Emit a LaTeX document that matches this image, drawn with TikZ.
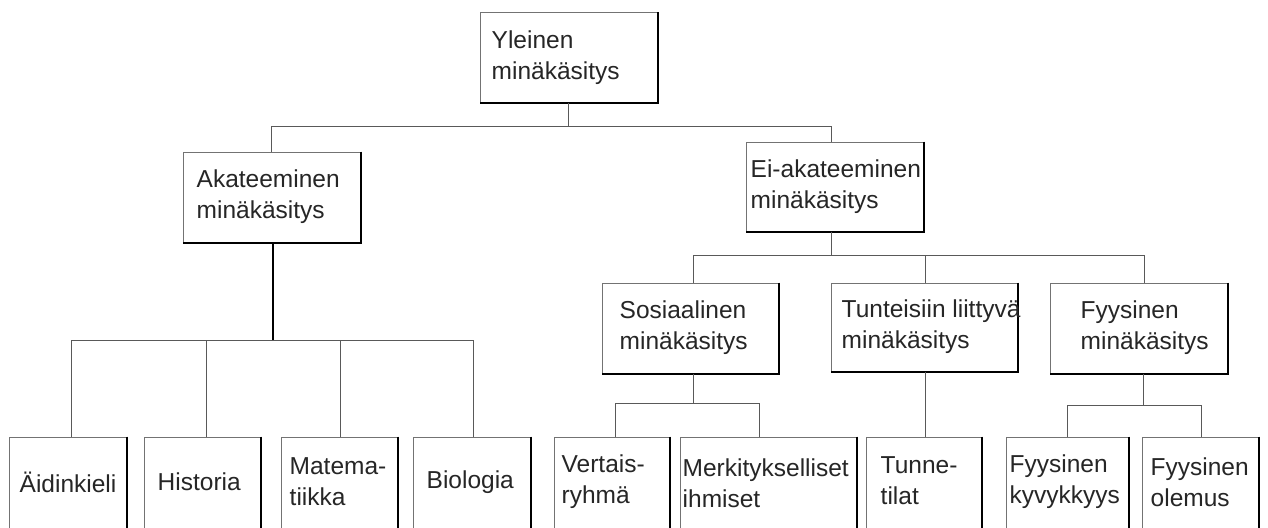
\documentclass[tikz,border=0pt]{standalone}
\usepackage{fontspec}
\setmainfont{Liberation Sans}
\begin{document}
\begin{tikzpicture}[x=1pt,y=-1pt,
  box/.style={draw=black!55, line width=1pt, inner sep=0pt, fill=white},
  shade/.style={draw=black, line width=2pt},
  txt/.style={anchor=west, align=left, inner sep=0pt, text=black!85,
    font=\fontsize{24.5}{31}\selectfont},
  conn/.style={draw=black!65, line width=1pt},
  thickconn/.style={draw=black, line width=2pt}]
\useasboundingbox (0,0) rectangle (1268,527);
\clip (0,0) rectangle (1268,527);
% boxes
\node[box, minimum width=177pt, minimum height=89pt] (Y) at (568.5,57.5) {};
\node[box, minimum width=177pt, minimum height=90pt] (A) at (271.5,197) {};
\node[box, minimum width=177pt, minimum height=89pt] (E) at (834.5,186.5) {};
\node[box, minimum width=176pt, minimum height=90pt] (S) at (690,328) {};
\node[box, minimum width=186pt, minimum height=88pt] (T) at (924,327) {};
\node[box, minimum width=177pt, minimum height=90pt] (F) at (1138.5,328) {};
\node[box, minimum width=117pt, minimum height=95pt] (L1) at (67.5,484.5) {};
\node[box, minimum width=116pt, minimum height=95pt] (L2) at (202,484.5) {};
\node[box, minimum width=116pt, minimum height=95pt] (L3) at (339,484.5) {};
\node[box, minimum width=117pt, minimum height=95pt] (L4) at (471.5,484.5) {};
\node[box, minimum width=115pt, minimum height=95pt] (L5) at (611.5,484.5) {};
\node[box, minimum width=176pt, minimum height=95pt] (L6) at (768,484.5) {};
\node[box, minimum width=115pt, minimum height=95pt] (L7) at (923.5,484.5) {};
\node[box, minimum width=122pt, minimum height=95pt] (L8) at (1067,484.5) {};
\node[box, minimum width=116pt, minimum height=95pt] (L9) at (1200,484.5) {};
% dark right and bottom edges
\foreach \n in {Y,A,E,S,T,F,L1,L2,L3,L4,L5,L6,L7,L8,L9}
  \draw[shade] (\n.north east) -- (\n.south east) -- (\n.south west);
% texts
\node[txt] (tY) at ([xshift=12pt]Y.west) {Yleinen\\minäkäsitys};
\node[txt] (tA) at ([xshift=14pt]A.west) {Akateeminen\\minäkäsitys};
\node[txt] (tE) at ([xshift=5pt]E.west) {Ei-akateeminen\\minäkäsitys};
\node[txt] (tS) at ([xshift=18pt]S.west) {Sosiaalinen\\minäkäsitys};
\node[txt] (tT) at ([xshift=11pt]T.west) {Tunteisiin liittyvä\\minäkäsitys};
\node[txt] (tF) at ([xshift=31pt]F.west) {Fyysinen\\minäkäsitys};
\node[txt] (t1) at ([xshift=11pt,yshift=2.5pt]L1.west) {Äidinkieli};
\node[txt] (t2) at ([xshift=14pt,yshift=2.5pt]L2.west) {Historia};
\node[txt] (t3) at ([xshift=9pt,yshift=2.5pt]L3.west) {Matema-\\tiikka};
\node[txt] (t4) at ([xshift=14pt,yshift=2.5pt]L4.west) {Biologia};
\node[txt] (t5) at ([xshift=8pt,yshift=2.5pt]L5.west) {Vertais-\\ryhmä};
\node[txt] (t6) at ([xshift=3pt,yshift=1pt]L6.west) {Merkitykselliset\\ihmiset};
\node[txt] (t7) at ([xshift=15pt,yshift=4pt]L7.west) {Tunne-\\tilat};
\node[txt] (t8) at ([xshift=4pt,yshift=2.5pt]L8.west) {Fyysinen\\kyvykkyys};
\node[txt] (t9) at ([xshift=9pt,yshift=2.5pt]L9.west) {Fyysinen\\olemus};
% connectors
\draw[conn] (Y.south) -- ++(0,24) -| (A.north);
\draw[conn] (Y.south) -- ++(0,24) -| ([xshift=-3.5pt]E.north);
\draw[thickconn] ([xshift=1.5pt]A.south) -- ++(0,98);
\draw[conn] ([xshift=1.5pt]A.south) ++(0,98) -| ([xshift=3.5pt]L1.north);
\draw[conn] ([xshift=1.5pt]A.south) ++(0,98) -| ([xshift=4pt]L2.north);
\draw[conn] ([xshift=1.5pt]A.south) ++(0,98) -| ([xshift=1pt]L3.north);
\draw[conn] ([xshift=1.5pt]A.south) ++(0,98) -| ([xshift=1.5pt]L4.north);
\draw[conn] ([xshift=-3.5pt]E.south) -- ++(0,24) -| ([xshift=3pt]S.north);
\draw[conn] ([xshift=-3.5pt]E.south) -- ++(0,24) -| ([xshift=1pt]T.north);
\draw[conn] ([xshift=-3.5pt]E.south) -- ++(0,24) -| ([xshift=6pt]F.north);
\draw[conn] ([xshift=3pt]S.south) -- ++(0,30) -| ([xshift=3.5pt]L5.north);
\draw[conn] ([xshift=3pt]S.south) -- ++(0,30) -| ([xshift=-9pt]L6.north);
\draw[conn] ([xshift=1pt]T.south) -- ([xshift=1pt]T.south |- L7.north);
\draw[conn] ([xshift=4.5pt]F.south) -- ++(0,32) -| (L8.north);
\draw[conn] ([xshift=4.5pt]F.south) -- ++(0,32) -| ([xshift=1pt]L9.north);
\end{tikzpicture}
\end{document}
